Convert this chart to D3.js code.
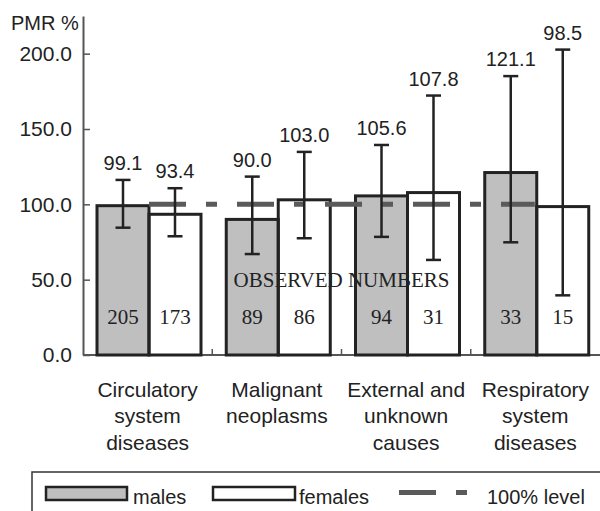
<!DOCTYPE html>
<html>
<head>
<meta charset="utf-8">
<script src="https://cdn.jsdelivr.net/npm/d3@7"></script>
<style>
  html, body { margin: 0; padding: 0; background: #fff; }
  svg { display: block; }
</style>
</head>
<body>
<svg id="chart" width="600" height="511"></svg>
<script>
// ---- data ----
const categories = [
  ["Circulatory", "system", "diseases"],
  ["Malignant", "neoplasms"],
  ["External and", "unknown", "causes"],
  ["Respiratory", "system", "diseases"]
];
const catKeys = ["circ", "malig", "ext", "resp"];
const malesPMR = [99.1, 90.0, 105.6, 121.1];
const femalesPMR = [93.4, 103.0, 107.8, 98.5];
const malesLower = [84.5, 67.0, 78.4, 74.8];
const malesUpper = [116.2, 118.4, 139.4, 185.1];
const femalesLower = [78.8, 77.5, 63.1, 39.6];
const femalesUpper = [110.7, 134.8, 172.2, 202.7];
const malesObserved = [205, 89, 94, 33];
const femalesObserved = [173, 86, 31, 15];
const yTicks = [0, 50, 100, 150, 200];
const referenceLevel = 100;
const seriesNames = ["males", "females"];

// ---- setup ----
const svg = d3.select("#chart");
const sans = "'Liberation Sans', Arial, sans-serif";
const serif = "'Liberation Serif', 'Times New Roman', serif";
const ink = "#222";
const axisCol = "#555";
const maleFill = "#bfbfc0";

const y = d3.scaleLinear().domain([0, 225]).range([355, 16]);
const x = d3.scaleBand().domain(catKeys).range([83, 600]).paddingInner(0).paddingOuter(0);
const xs = d3.scaleBand().domain(seriesNames).range([14, 118]).padding(0);

const rows = catKeys.map((k, i) => ({
  key: k,
  items: [
    { s: "males", v: malesPMR[i], lo: malesLower[i], hi: malesUpper[i], n: malesObserved[i] },
    { s: "females", v: femalesPMR[i], lo: femalesLower[i], hi: femalesUpper[i], n: femalesObserved[i] }
  ]
}));
const flat = [];
rows.forEach(r => r.items.forEach(it => flat.push(Object.assign({ key: r.key }, it))));
const cx = d => x(d.key) + xs(d.s) + xs.bandwidth() / 2;

// ---- y axis ----
const yAxis = d3.axisLeft(y).tickValues(yTicks).tickFormat(d3.format(".1f"))
  .tickSizeInner(-7).tickSizeOuter(0).tickPadding(11);
const gy = svg.append("g").attr("transform", "translate(83,0)").call(yAxis);
gy.select(".domain").attr("stroke", axisCol).attr("stroke-width", 2);
gy.selectAll(".tick line").attr("stroke", axisCol).attr("stroke-width", 1.5);
gy.selectAll(".tick text").attr("font-family", sans).attr("font-size", 21).attr("fill", ink);

svg.append("text").attr("x", 11).attr("y", 29.5)
  .attr("font-family", sans).attr("font-size", 20).attr("fill", ink).text("PMR %");

// ---- x axis ----
svg.append("line").attr("x1", 83).attr("x2", 600).attr("y1", y(0)).attr("y2", y(0))
  .attr("stroke", axisCol).attr("stroke-width", 2);
svg.selectAll(".sep").data(catKeys.slice(1)).enter().append("line")
  .attr("x1", d => x(d)).attr("x2", d => x(d))
  .attr("y1", y(0)).attr("y2", y(0) - 6)
  .attr("stroke", axisCol).attr("stroke-width", 1.5);

// ---- bars (fill) ----
svg.selectAll(".bar").data(flat).enter().append("rect")
  .attr("x", d => x(d.key) + xs(d.s))
  .attr("width", xs.bandwidth())
  .attr("y", d => y(d.v))
  .attr("height", d => y(0) - y(d.v))
  .attr("fill", d => d.s === "males" ? maleFill : "#fff")
  .attr("stroke", "none");

// ---- observed numbers ----
svg.append("text").attr("x", x(catKeys[2])).attr("y", 287)
  .attr("text-anchor", "middle").attr("font-family", serif).attr("font-size", 21)
  .attr("fill", ink).text("OBSERVED NUMBERS");
svg.selectAll(".obs").data(flat).enter().append("text")
  .attr("x", cx).attr("y", 324)
  .attr("text-anchor", "middle").attr("font-family", serif).attr("font-size", 21)
  .attr("fill", ink).text(d => d.n);

// ---- bar outlines ----
svg.selectAll(".barline").data(flat).enter().append("rect")
  .attr("x", d => x(d.key) + xs(d.s))
  .attr("width", xs.bandwidth())
  .attr("y", d => y(d.v))
  .attr("height", d => y(0) - y(d.v))
  .attr("fill", "none")
  .attr("stroke", ink).attr("stroke-width", 3);

// ---- 100% level ----
svg.append("line")
  .attr("x1", x(catKeys[0]) + xs("females"))
  .attr("x2", x(catKeys[3]) + xs("females") - 2)
  .attr("y1", y(referenceLevel)).attr("y2", y(referenceLevel))
  .attr("stroke", "#5a5a5a").attr("stroke-width", 5)
  .attr("stroke-dasharray", "37,20,11,20");

// ---- error bars ----
const eb = svg.selectAll(".eb").data(flat).enter().append("g").attr("stroke", ink).attr("stroke-width", 2.5);
eb.append("line").attr("x1", cx).attr("x2", cx).attr("y1", d => y(d.lo)).attr("y2", d => y(d.hi));
eb.append("line").attr("x1", d => cx(d) - 7.5).attr("x2", d => cx(d) + 7.5).attr("y1", d => y(d.hi)).attr("y2", d => y(d.hi));
eb.append("line").attr("x1", d => cx(d) - 7.5).attr("x2", d => cx(d) + 7.5).attr("y1", d => y(d.lo)).attr("y2", d => y(d.lo));

// ---- value labels ----
svg.selectAll(".val").data(flat).enter().append("text")
  .attr("x", cx).attr("y", d => y(d.hi) - 10)
  .attr("text-anchor", "middle").attr("font-family", sans).attr("font-size", 20)
  .attr("fill", ink).text(d => d3.format(".1f")(d.v));

// ---- category labels ----
const cl = svg.selectAll(".cat").data(catKeys).enter().append("text")
  .attr("text-anchor", "middle").attr("font-family", sans).attr("font-size", 21).attr("fill", ink);
cl.each(function (k, i) {
  const t = d3.select(this);
  categories[i].forEach((line, j) => {
    t.append("tspan").attr("x", x(k) + x.bandwidth() / 2).attr("y", 396.5 + j * 26.5).text(line);
  });
});

// ---- legend ----
const lg = svg.append("g");
lg.append("rect").attr("x", 32).attr("y", 472).attr("width", 600).attr("height", 60)
  .attr("fill", "none").attr("stroke", "#333").attr("stroke-width", 1.5);
lg.append("rect").attr("x", 46).attr("y", 487).attr("width", 81).attr("height", 13)
  .attr("fill", maleFill).attr("stroke", ink).attr("stroke-width", 2.5);
lg.append("text").attr("x", 133).attr("y", 503.5).attr("font-family", sans).attr("font-size", 20)
  .attr("fill", ink).text(seriesNames[0]);
lg.append("rect").attr("x", 213).attr("y", 487).attr("width", 82).attr("height", 13)
  .attr("fill", "#fff").attr("stroke", ink).attr("stroke-width", 2.5);
lg.append("text").attr("x", 299).attr("y", 503.5).attr("font-family", sans).attr("font-size", 20)
  .attr("fill", ink).text(seriesNames[1]);
lg.append("line").attr("x1", 399).attr("x2", 467).attr("y1", 492.5).attr("y2", 492.5)
  .attr("stroke", "#5a5a5a").attr("stroke-width", 5).attr("stroke-dasharray", "37,20,11,20");
lg.append("text").attr("x", 487).attr("y", 503.5).attr("font-family", sans).attr("font-size", 20)
  .attr("fill", ink).text("100% level");
</script>
</body>
</html>
